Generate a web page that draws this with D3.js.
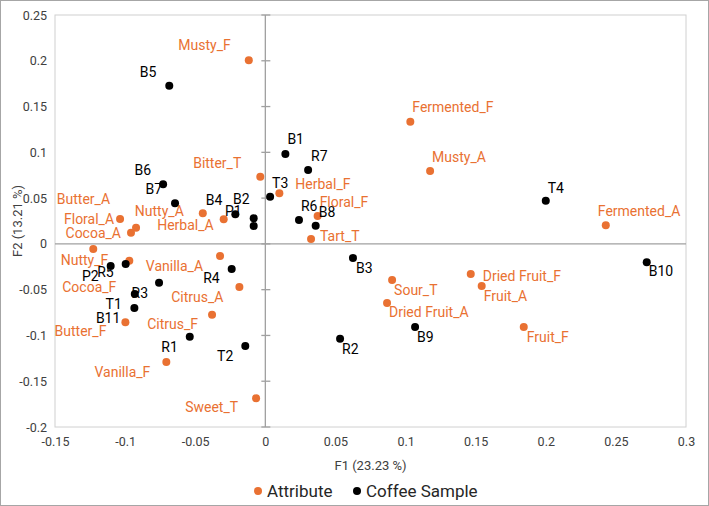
<!DOCTYPE html>
<html>
<head>
<meta charset="utf-8">
<script src="https://cdn.jsdelivr.net/npm/d3@7"></script>
<style>
  body { margin: 0; background: #fff; }
  svg text { font-family: Roboto, "Liberation Sans", sans-serif; }
</style>
</head>
<body>
<div id="chart"></div>
<script>
// attributes (orange)
const attrNames = ["Musty_F", "Fermented_F", "Musty_A", "Fermented_A", "Bitter_T", "Herbal_F",
    "Floral_F", "Tart_T", "Sour_T", "Dried Fruit_F", "Fruit_A", "Dried Fruit_A", "Fruit_F",
    "Floral_A", "Butter_A", "Cocoa_A", "Nutty_A", "Herbal_A", "Nutty_F", "Vanilla_A", "Cocoa_F",
    "Citrus_A", "Citrus_F", "Butter_F", "Vanilla_F", "Sweet_T"];
const attrF1 = [-0.0118, 0.1034, 0.1175, 0.2428, -0.0036, 0.0100, 0.0373, 0.0326, 0.0904, 0.1465,
    0.1543, 0.0868, 0.1843, -0.1036, -0.0922, -0.0958, -0.0446, -0.0297, -0.1227, -0.0323, -0.0970,
    -0.0185, -0.0380, -0.0998, -0.0706, -0.0066];
const attrF2 = [0.2005, 0.1335, 0.0795, 0.0203, 0.0734, 0.0553, 0.0305, 0.0054, -0.0394, -0.0329,
    -0.0460, -0.0645, -0.0908, 0.0272, 0.0177, 0.0122, 0.0334, 0.0269, -0.0056, -0.0132, -0.0184,
    -0.0470, -0.0773, -0.0856, -0.1290, -0.1686];

// coffee samples (black)
const sampleNames = ["B5", "B1", "R7", "T3", "R6", "B8", "B3", "B9", "R2", "T4", "B10", "B6", "B7",
    "B4", "B2", "P1", "R4", "R3", "T1", "B11", "P2", "R5", "R1", "T2"];
const sampleF1 = [-0.0685, 0.0143, 0.0305, 0.0034, 0.0240, 0.0359, 0.0625, 0.1068, 0.0533, 0.2000,
    0.2720, -0.0729, -0.0644, -0.0214, -0.0083, -0.0083, -0.0240, -0.0758, -0.0931, -0.0934,
    -0.1103, -0.0996, -0.0539, -0.0143];
const sampleF2 = [0.1728, 0.0982, 0.0807, 0.0516, 0.0261, 0.0199, -0.0154, -0.0908, -0.1035, 0.0472,
    -0.0201, 0.0651, 0.0443, 0.0323, 0.0279, 0.0196, -0.0274, -0.0424, -0.0547, -0.0700, -0.0242,
    -0.0220, -0.1013, -0.1115];

const xTicks = [-0.15, -0.1, -0.05, 0, 0.05, 0.1, 0.15, 0.2, 0.25, 0.3];
const yTicks = [-0.2, -0.15, -0.1, -0.05, 0, 0.05, 0.1, 0.15, 0.2, 0.25];

// label placement: [dx, dy, anchor] relative to the dot (layout only)
const labelPos = {
    "Musty_F": [-18, -15, "end"], "Fermented_F": [2, -15, "start"], "Musty_A": [2, -14, "start"],
    "Fermented_A": [-8, -14, "start"], "Bitter_T": [-19, -14, "end"], "Herbal_F": [16, -9, "start"],
    "Floral_F": [2, -14, "start"], "Tart_T": [9, -3, "start"], "Sour_T": [2, 10, "start"],
    "Dried Fruit_F": [12, 2, "start"], "Fruit_A": [2, 10, "start"], "Dried Fruit_A": [2, 9, "start"],
    "Fruit_F": [3, 10, "start"], "Floral_A": [-6, 0, "end"], "Butter_A": [-26, -29, "end"],
    "Cocoa_A": [-10, 0, "end"], "Nutty_A": [-19, -2, "end"], "Herbal_A": [-10, 6, "end"],
    "Nutty_F": [15, 11, "end"], "Vanilla_A": [-17, 10, "end"], "Cocoa_F": [-13, 26, "end"],
    "Citrus_A": [-16, 10, "end"], "Citrus_F": [-14, 9, "end"], "Butter_F": [-19, 9, "end"],
    "Vanilla_F": [-16, 10, "end"], "Sweet_T": [-18, 9, "end"],
    "B5": [-13, -14, "end"], "B1": [2, -15, "start"], "R7": [3, -14, "start"], "T3": [2, -14, "start"],
    "R6": [2, -14, "start"], "B8": [3, -14, "start"], "B3": [3, 10, "start"], "B9": [2, 10, "start"],
    "R2": [2, 10, "start"], "T4": [2, -13, "start"], "B10": [2, 9, "start"], "B6": [-12, -14, "end"],
    "B7": [-13, -14, "end"], "B4": [-13, -14, "end"], "B2": [-4, -19, "end"], "P1": [-12, -15, "end"],
    "R4": [-12, 9, "end"], "R3": [-11, 10, "end"], "T1": [-13, 10, "end"], "B11": [-14, 10, "end"],
    "P2": [-12, 10, "end"], "R5": [-12, 8, "end"], "R1": [-12, 10, "end"], "T2": [-12, 10, "end"]
};

const orange = "#E97132";

const W = 709, H = 506;
const margin = { top: 15, right: 23, bottom: 79, left: 55 };
const width = W - margin.left - margin.right;
const height = H - margin.top - margin.bottom;

const svg = d3.select("#chart").append("svg")
    .attr("width", W)
    .attr("height", H);

// outer chart border
svg.append("rect")
    .attr("x", 0.5).attr("y", 0.5)
    .attr("width", W - 1).attr("height", H - 1)
    .attr("fill", "#fff")
    .attr("stroke", "#a6a6a6");

const g = svg.append("g")
    .attr("transform", `translate(${margin.left},${margin.top})`);

const x = d3.scaleLinear().domain([-0.15, 0.3]).range([0, width]);
const y = d3.scaleLinear().domain([-0.2, 0.25]).range([height, 0]);

// plot area border
g.append("rect")
    .attr("width", width).attr("height", height)
    .attr("fill", "none")
    .attr("stroke", "#d0d0d0");

const fmt = d => String(+d.toFixed(2));

// tick labels
g.append("g")
    .attr("transform", `translate(0,${height})`)
    .call(d3.axisBottom(x).tickValues(xTicks).tickSize(0).tickPadding(10).tickFormat(fmt))
    .call(a => a.select(".domain").remove())
    .selectAll("text")
    .attr("font-size", 12.5)
    .attr("fill", "#404040");

g.append("g")
    .call(d3.axisLeft(y).tickValues(yTicks).tickSize(0).tickPadding(8).tickFormat(fmt))
    .call(a => a.select(".domain").remove())
    .selectAll("text")
    .attr("font-size", 12.5)
    .attr("fill", "#404040");

// zero lines
g.append("line")
    .attr("x1", 0).attr("x2", width)
    .attr("y1", y(0)).attr("y2", y(0))
    .attr("stroke", "#a0a0a0").attr("stroke-width", 1.3);

g.append("line")
    .attr("x1", x(0)).attr("x2", x(0))
    .attr("y1", 0).attr("y2", height)
    .attr("stroke", "#a0a0a0").attr("stroke-width", 1.3);

g.selectAll(".ytick")
    .data(yTicks)
    .enter()
    .append("line")
    .attr("x1", x(0) - 4).attr("x2", x(0) + 5)
    .attr("y1", d => y(d)).attr("y2", d => y(d))
    .attr("stroke", "#a0a0a0").attr("stroke-width", 1.3);

// axis titles
svg.append("text")
    .attr("x", margin.left + width / 2)
    .attr("y", 470)
    .attr("text-anchor", "middle")
    .attr("font-size", 13)
    .attr("fill", "#404040")
    .text("F1 (23.23 %)");

svg.append("text")
    .attr("transform", `translate(22,${margin.top + height / 2}) rotate(-90)`)
    .attr("text-anchor", "middle")
    .attr("font-size", 13)
    .attr("fill", "#404040")
    .text("F2 (13.21 %)");

const attrs = attrNames.map((n, i) => ({ name: n, f1: attrF1[i], f2: attrF2[i] }));
const samples = sampleNames.map((n, i) => ({ name: n, f1: sampleF1[i], f2: sampleF2[i] }));

function drawSeries(data, color) {
    g.append("g").selectAll("circle")
        .data(data)
        .enter()
        .append("circle")
        .attr("cx", d => x(d.f1))
        .attr("cy", d => y(d.f2))
        .attr("r", 4)
        .attr("fill", color);

    g.append("g").selectAll("text")
        .data(data)
        .enter()
        .append("text")
        .attr("x", d => x(d.f1) + labelPos[d.name][0])
        .attr("y", d => y(d.f2) + labelPos[d.name][1])
        .attr("dy", "0.35em")
        .attr("text-anchor", d => labelPos[d.name][2])
        .attr("font-size", 14)
        .attr("fill", color)
        .text(d => d.name);
}

drawSeries(attrs, orange);
drawSeries(samples, "#000");

// legend
const legend = svg.append("g").attr("transform", "translate(0,491)");
const items = [{ name: "Attribute", color: orange, x: 258 }, { name: "Coffee Sample", color: "#000", x: 357 }];
items.forEach(it => {
    legend.append("circle").attr("cx", it.x).attr("cy", 0).attr("r", 4).attr("fill", it.color);
    legend.append("text")
        .attr("x", it.x + 9).attr("y", 0).attr("dy", "0.35em")
        .attr("font-size", 17)
        .attr("fill", "#262626")
        .text(it.name);
});
</script>
</body>
</html>
